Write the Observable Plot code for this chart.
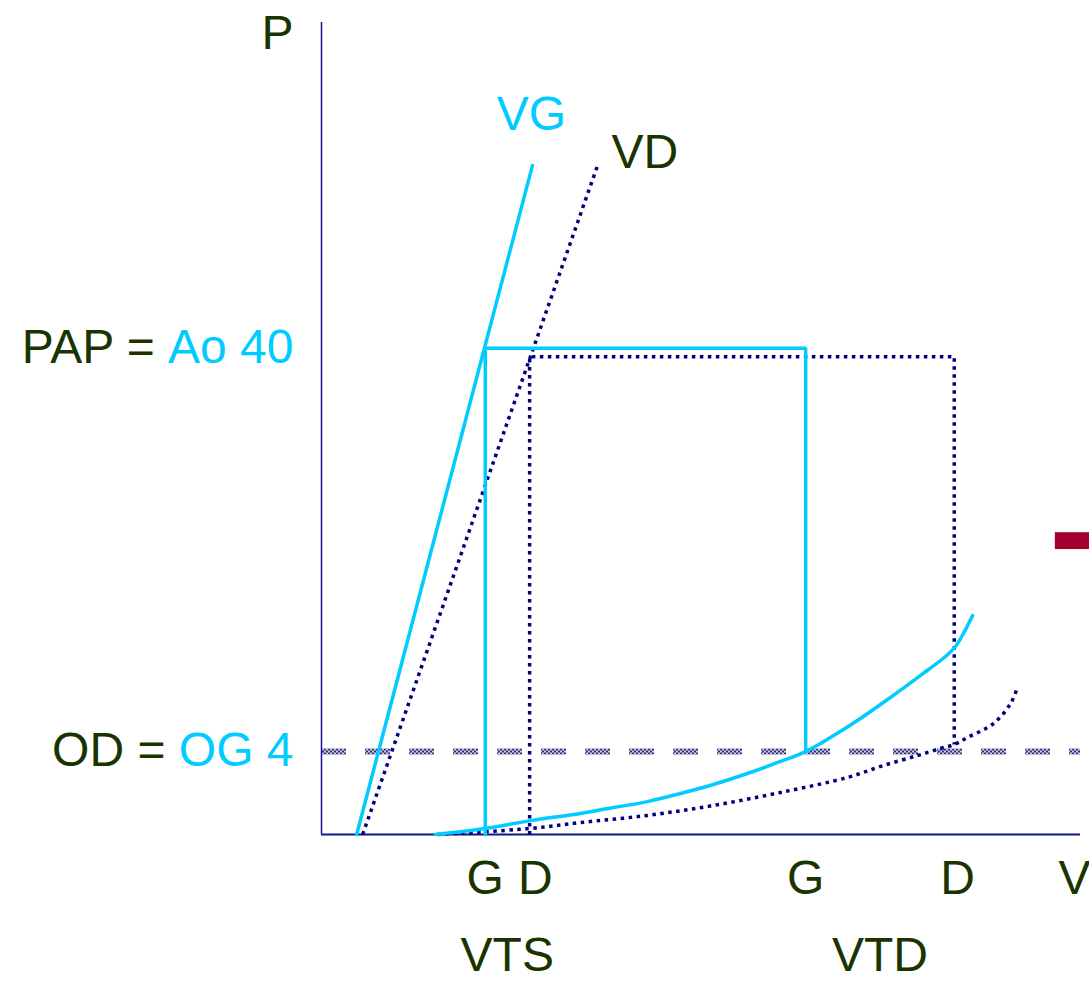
<!DOCTYPE html>
<html>
<head>
<meta charset="utf-8">
<script src="https://cdn.jsdelivr.net/npm/d3@7"></script>
<script src="https://cdn.jsdelivr.net/npm/@observablehq/plot@0.6"></script>
<style>
  html, body { margin: 0; padding: 0; background: #fff; overflow: hidden; }
  #chart svg { display: block; }
</style>
</head>
<body>
<div id="chart"></div>
<script>
// Pressure–volume loops of the left (G) and right (D) ventricles.
// Volume in arbitrary units, pressure in mmHg.

const volumeDomain = [0, 190];
const pressureDomain = [0, 78];

// End-systolic pressure–volume relations (elastance lines)
const espvrG = [[8.8, 0], [52.8, 60.6]];
const espvrD = [[10.3, 0], [69.1, 60.6]];

// Loops: ejection at aortic / pulmonary pressure, filling down to atrial pressure
const loopG = [[41, 0], [41, 40], [121.2, 40], [121.2, 4]];
const loopD = [[52.1, 0], [52.1, 39.1], [158.4, 39.1], [158.4, 4.45]];

// End-diastolic pressure–volume relations (compliance curves)
const edpvrG = [
  [28.5, 0], [41, 0.13], [52.3, 0.39], [64.8, 0.67], [73.1, 0.93], [81.6, 1.2],
  [89.9, 1.6], [98.1, 2.07], [106.6, 2.68], [114.9, 3.39], [121.2, 4], [127.4, 4.9],
  [134.9, 6.19], [142.4, 7.69], [149.9, 9.33], [156.2, 10.81], [158.7, 11.61],
  [160.7, 12.67], [163.0, 14.16]
];
const edpvrD = [
  [29.0, 0], [52.1, 0.13], [64.8, 0.32], [81.6, 0.59], [98.1, 1.02], [114.9, 1.65],
  [131.7, 2.46], [140.7, 3.15], [149.2, 3.75], [154.9, 4.19], [158.4, 4.45],
  [161.7, 4.9], [168.2, 5.84], [172.5, 7.25], [174.2, 8.43]
];

// Atrial pressure level (OD = OG)
const atrialPressure = [4];

// Axis captions
const pressureLabels = [
  {p: 78, text: "P", role: "ink", after: ""},
  {p: 40, text: "Ao 40", role: "left", after: ""},
  {p: 40, text: "PAP = ", role: "ink", after: "Ao 40"},
  {p: 4, text: "OG 4", role: "left", after: ""},
  {p: 4, text: "OD = ", role: "ink", after: "OG 4"}
];
const volumeLabels = [
  {v: 41, text: "G"}, {v: 53.5, text: "D"},
  {v: 121.2, text: "G"}, {v: 159.2, text: "D"}, {v: 188.5, text: "V"}
];
const volumeGroups = [
  {v: 46.5, text: "VTS"},
  {v: 139.8, text: "VTD"}
];
const lineNames = [
  {name: "VG", line: espvrG, role: "left"},
  {name: "VD", line: espvrD, role: "ink"}
];

// Side marker
const marker = [{v1: 183.7, v2: 194, p1: 19.95, p2: 21.5}];

const colors = {left: "#00ccff", right: "#000080", ink: "#1a3300", axis: "#14148a", marker: "#a5002f"};
const FONT = "'Liberation Sans', Arial, Helvetica, sans-serif";
const SIZE = 48;

const measure = (() => {
  const ctx = document.createElement("canvas").getContext("2d");
  ctx.font = `${SIZE}px ${FONT}`;
  return (s) => s ? ctx.measureText(s).width : 0;
})();

// Fine checkered stroke for the atrial pressure level
function hatchDefs() {
  const g = d3.create("svg:g");
  const p = g.append("defs").append("pattern")
    .attr("id", "atrial-hatch")
    .attr("patternUnits", "userSpaceOnUse")
    .attr("width", 4).attr("height", 4);
  p.append("rect").attr("width", 4).attr("height", 4).attr("fill", "#cfcfe6");
  p.append("rect").attr("width", 2).attr("height", 2).attr("fill", "#2e2e7a");
  p.append("rect").attr("x", 2).attr("y", 2).attr("width", 2).attr("height", 2).attr("fill", "#2e2e7a");
  return g.node();
}

const pt = {x: d => d[0], y: d => d[1]};
const dotted = {stroke: colors.right, strokeWidth: 3.5, strokeDasharray: "3.5 4.5", strokeLinecap: "butt"};
const solid = {stroke: colors.left, strokeWidth: 3.5, strokeLinejoin: "miter"};
const txt = {fontSize: SIZE, fontFamily: FONT};

const chart = Plot.plot({
  width: 1089,
  height: 981,
  marginLeft: 321,
  marginRight: 9,
  marginTop: 22,
  marginBottom: 147,
  x: {domain: volumeDomain, axis: null},
  y: {type: "pow", exponent: 0.768, domain: pressureDomain, axis: null},
  style: {fontFamily: FONT, background: "#fff", overflow: "visible"},
  marks: [
    hatchDefs,
    Plot.ruleY(atrialPressure, {x1: volumeDomain[0], x2: volumeDomain[1], stroke: "url(#atrial-hatch)", strokeWidth: 6, strokeDasharray: "25 19"}),
    Plot.ruleX([volumeDomain[0]], {y1: pressureDomain[0], y2: pressureDomain[1], stroke: colors.axis, strokeWidth: 1.5}),
    Plot.ruleY([pressureDomain[0]], {x1: volumeDomain[0], x2: volumeDomain[1], stroke: colors.axis, strokeWidth: 2}),

    Plot.line(edpvrD, {...pt, ...dotted, curve: "catmull-rom"}),
    Plot.line(espvrD, {...pt, ...dotted}),
    Plot.line(loopD, {...pt, ...dotted}),

    Plot.line(edpvrG, {...pt, ...solid, curve: "catmull-rom"}),
    Plot.line(espvrG, {...pt, ...solid}),
    Plot.line(loopG, {...pt, ...solid}),

    Plot.rect(marker, {x1: "v1", x2: "v2", y1: "p1", y2: "p2", fill: colors.marker}),

    ...pressureLabels.map(d => Plot.text([d], {
      ...txt, x: volumeDomain[0], y: "p", text: "text", fill: colors[d.role],
      textAnchor: "end", dx: -28 - measure(d.after), dy: d.p === pressureDomain[1] ? 11 : -1
    })),
    Plot.text(volumeLabels, {...txt, x: "v", y: 0, text: "text", fill: colors.ink, dy: 44}),
    Plot.text(volumeGroups, {...txt, x: "v", y: 0, text: "text", fill: colors.ink, dy: 121}),
    Plot.text([lineNames[0]], {...txt, x: d => d.line.at(-1)[0], y: d => d.line.at(-1)[1], text: "name", fill: colors.left, dx: -1, dy: -51}),
    Plot.text([lineNames[1]], {...txt, x: d => d.line.at(-1)[0], y: d => d.line.at(-1)[1], text: "name", fill: colors.ink, textAnchor: "start", dx: 14, dy: -13})
  ]
});

document.getElementById("chart").append(chart);
</script>
</body>
</html>
